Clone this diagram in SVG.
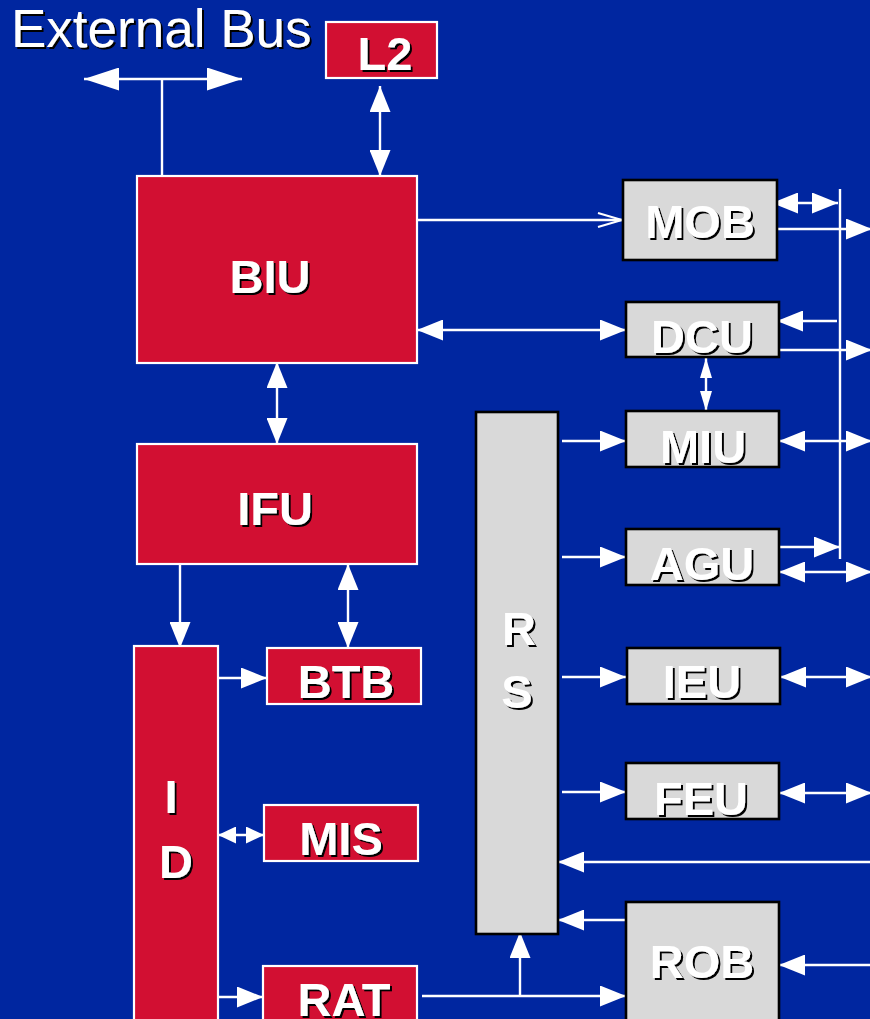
<svg xmlns="http://www.w3.org/2000/svg" width="870" height="1019" viewBox="0 0 870 1019">
<defs>
<style>
.red{fill:#D20F32;stroke:#FFFFFF;stroke-width:2.2}
.grey{fill:#D9D9D9;stroke:#000000;stroke-width:2.6}
.lbl{font-family:"Liberation Sans",Arial,sans-serif;font-weight:bold;font-size:47px;fill:#FFFFFF;text-anchor:middle;filter:url(#sh)}
.ext{font-family:"Liberation Sans",Arial,sans-serif;font-size:53px;fill:#FFFFFF;filter:url(#sh)}
.c{fill:none;stroke:#FFFFFF;stroke-width:2.4}
.s{marker-end:url(#a)}
.d{marker-start:url(#a);marker-end:url(#a)}
</style>
<filter id="sh" x="-10%" y="-20%" width="130%" height="150%">
<feDropShadow dx="2" dy="2" stdDeviation="0.4" flood-color="#000000" flood-opacity="1"/>
</filter>
<marker id="a" markerUnits="userSpaceOnUse" viewBox="0 0 26 21" markerWidth="26" markerHeight="21" refX="26" refY="10.5" orient="auto-start-reverse">
<path d="M0,0 L26,10.5 L0,21 Z" fill="#FFFFFF"/>
</marker>
<marker id="big" markerUnits="userSpaceOnUse" viewBox="0 0 35 23" markerWidth="35" markerHeight="23" refX="35" refY="11.5" orient="auto-start-reverse">
<path d="M0,0 L35,11.5 L0,23 Z" fill="#FFFFFF"/>
</marker>
<marker id="sm" markerUnits="userSpaceOnUse" viewBox="0 0 18 17" markerWidth="18" markerHeight="17" refX="18" refY="8.5" orient="auto-start-reverse">
<path d="M0,0 L18,8.5 L0,17 Z" fill="#FFFFFF"/>
</marker>
<marker id="nar" markerUnits="userSpaceOnUse" viewBox="0 0 20 12" markerWidth="20" markerHeight="12" refX="20" refY="6" orient="auto-start-reverse">
<path d="M0,0 L20,6 L0,12 Z" fill="#FFFFFF"/>
</marker>
<marker id="open" markerUnits="userSpaceOnUse" viewBox="0 0 26 18" markerWidth="26" markerHeight="18" refX="25" refY="9" orient="auto">
<path d="M1,2 L25,9 L1,16" fill="none" stroke="#FFFFFF" stroke-width="2.2"/>
</marker>
</defs>
<rect x="0" y="0" width="870" height="1019" fill="#0026A0"/>

<g id="connectors">
<path class="c" d="M84,79 L242,79" marker-start="url(#big)" marker-end="url(#big)"/>
<path class="c" d="M162,79 L162,176"/>
<path class="c d" d="M380,86 L380,176"/>
<path class="c" d="M417,220 L622,220" marker-end="url(#open)"/>
<path class="c d" d="M417,330 L626,330"/>
<path class="c d" d="M277,362 L277,444"/>
<path class="c s" d="M180,564 L180,648"/>
<path class="c d" d="M348,564 L348,648"/>
<path class="c s" d="M218,678 L267,678"/>
<path class="c" d="M218,835 L264,835" marker-start="url(#sm)" marker-end="url(#sm)"/>
<path class="c s" d="M218,997 L263,997"/>
<path class="c s" d="M422,996 L626,996"/>
<path class="c s" d="M520,996 L520,932"/>
<path class="c s" d="M626,920 L558,920"/>
<path class="c s" d="M870,862 L558,862"/>
<path class="c s" d="M870,965 L779,965"/>
<path class="c s" d="M562,441 L626,441"/>
<path class="c s" d="M562,557 L626,557"/>
<path class="c s" d="M562,677 L626,677"/>
<path class="c s" d="M562,792 L626,792"/>
<path class="c d" d="M780,677 L872,677"/>
<path class="c d" d="M779,793 L872,793"/>
<path class="c d" d="M779,441 L872,441"/>
<path class="c d" d="M779,572 L872,572"/>
<path class="c s" d="M779,547 L840,547"/>
<path class="c" d="M840,189 L840,559"/>
<path class="c d" d="M772,203 L838,203"/>
<path class="c s" d="M777,229 L872,229"/>
<path class="c s" d="M837,321 L777,321"/>
<path class="c s" d="M779,350 L872,350"/>
<path class="c" d="M706,358 L706,411" marker-start="url(#nar)" marker-end="url(#nar)"/>
</g>

<g id="extbus"><text class="ext" x="11" y="47">External Bus</text></g>

<g id="L2"><rect class="red" x="326" y="22" width="111" height="56"/><text class="lbl" x="385" y="70">L2</text></g>
<g id="BIU"><rect class="red" x="137" y="176" width="280" height="187"/><text class="lbl" x="270" y="293">BIU</text></g>
<g id="IFU"><rect class="red" x="137" y="444" width="280" height="120"/><text class="lbl" x="275" y="525">IFU</text></g>
<g id="BTB"><rect class="red" x="267" y="648" width="154" height="56"/><text class="lbl" x="346" y="698">BTB</text></g>
<g id="MIS"><rect class="red" x="264" y="805" width="154" height="56"/><text class="lbl" x="341" y="855">MIS</text></g>
<g id="RAT"><rect class="red" x="263" y="966" width="154" height="70"/><text class="lbl" x="344" y="1016">RAT</text></g>
<g id="ID"><rect class="red" x="134" y="646" width="84" height="390"/><text class="lbl" x="171" y="813">I</text><text class="lbl" x="176" y="878">D</text></g>
<g id="RS"><rect class="grey" x="476" y="412" width="82" height="522"/><text class="lbl" x="519" y="645">R</text><text class="lbl" x="517" y="708">S</text></g>
<g id="MOB"><rect class="grey" x="623" y="180" width="154" height="80"/><text class="lbl" x="700" y="238">MOB</text></g>
<g id="DCU"><rect class="grey" x="626" y="302" width="153" height="55"/><text class="lbl" x="702" y="353">DCU</text></g>
<g id="MIU"><rect class="grey" x="626" y="411" width="153" height="56"/><text class="lbl" x="703" y="463">MIU</text></g>
<g id="AGU"><rect class="grey" x="626" y="529" width="153" height="56"/><text class="lbl" x="702" y="580">AGU</text></g>
<g id="IEU"><rect class="grey" x="627" y="648" width="153" height="56"/><text class="lbl" x="702" y="698">IEU</text></g>
<g id="FEU"><rect class="grey" x="626" y="763" width="153" height="56"/><text class="lbl" x="701" y="815">FEU</text></g>
<g id="ROB"><rect class="grey" x="626" y="902" width="153" height="140"/><text class="lbl" x="702" y="978">ROB</text></g>
</svg>
